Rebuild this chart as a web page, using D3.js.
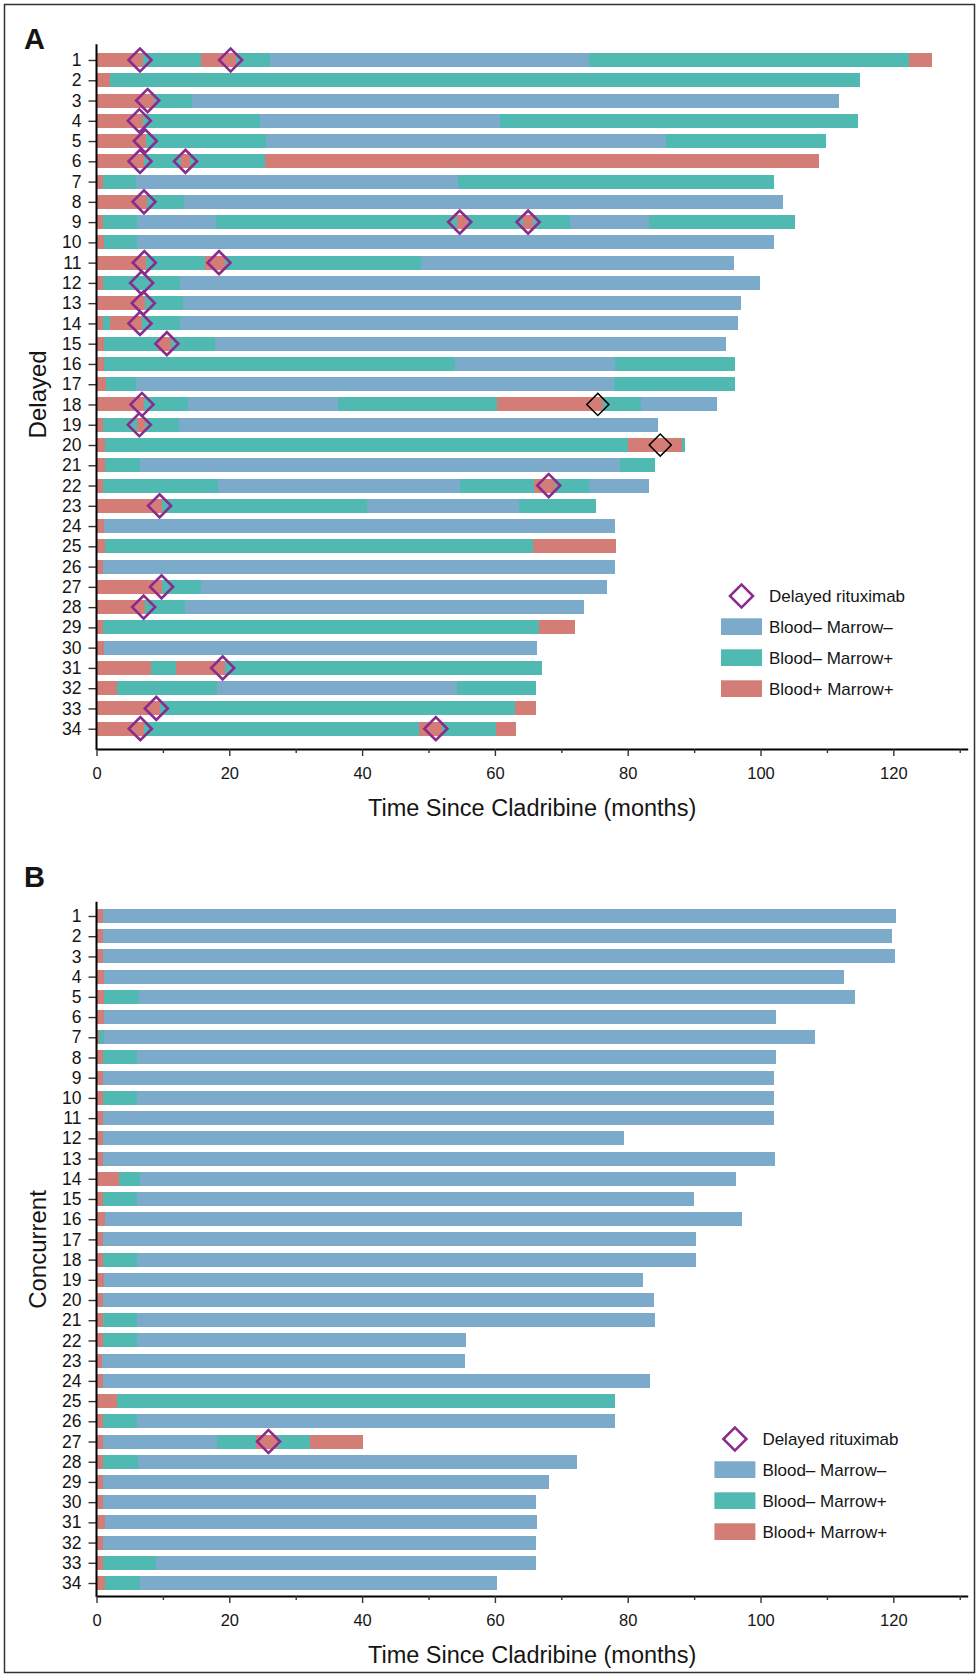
<!DOCTYPE html>
<html lang="en">
<head>
<meta charset="UTF-8">
<script src="https://cdn.jsdelivr.net/npm/d3@7"></script>
<title>Response by patient</title>
<style>
  body { margin: 0; background: #fff; }
  svg text { font-family: "Liberation Sans", Arial, sans-serif; fill: #151515; }
</style>
</head>
<body>
<script>
// ---- data ----
const patientIds = d3.range(1, 35);
const stateKeys = ["N", "M", "B"];
const stateLabels = ["Blood\u2013 Marrow\u2013", "Blood\u2013 Marrow+", "Blood+ Marrow+"];
const stateColors = ["#7caacb", "#4fb9b2", "#d47d77"];
const labelTicks = [0, 20, 40, 60, 80, 100, 120];

// one list per patient: [state, month at which that state ends]
const delayedSegments = [
  [["B",7.05],["M",15.8],["B",21.0],["M",26.2],["N",74.2],["M",122.4],["B",125.8]],
  [["B",2.0],["M",115.0]],
  [["B",8.7],["M",14.4],["N",111.8]],
  [["B",7.0],["M",24.6],["N",60.8],["M",114.7]],
  [["B",7.4],["M",25.5],["N",85.8],["M",109.9]],
  [["B",7.2],["M",12.8],["B",14.1],["M",25.4],["B",108.8]],
  [["B",1.0],["M",5.95],["N",54.4],["M",102.0]],
  [["B",7.6],["M",13.2],["N",103.4]],
  [["B",1.0],["M",6.1],["N",18.0],["M",54.3],["B",55.8],["M",64.2],["B",65.8],["M",71.3],["N",83.2],["M",105.2]],
  [["B",1.1],["M",6.1],["N",102.0]],
  [["B",7.5],["M",16.4],["B",19.3],["M",48.9],["N",96.0]],
  [["B",1.0],["M",12.6],["N",99.9]],
  [["B",7.3],["M",13.0],["N",97.1]],
  [["B",1.0],["M",2.0],["B",6.9],["M",12.6],["N",96.6]],
  [["B",1.1],["M",9.2],["B",11.2],["M",17.8],["N",94.8]],
  [["B",1.1],["M",54.0],["N",78.1],["M",96.2]],
  [["B",1.4],["M",5.95],["N",77.9],["M",96.2]],
  [["B",7.2],["M",13.8],["N",36.4],["M",60.3],["B",76.3],["M",82.0],["N",93.4]],
  [["B",1.0],["M",6.15],["B",7.3],["M",12.4],["N",84.6]],
  [["B",1.3],["M",80.0],["B",88.1],["M",88.6]],
  [["B",1.3],["M",6.55],["N",78.8],["M",84.1]],
  [["B",1.0],["M",18.3],["N",54.7],["M",65.9],["B",69.05],["M",74.2],["N",83.2]],
  [["B",9.9],["M",40.7],["N",63.6],["M",75.2]],
  [["B",1.1],["N",78.1]],
  [["B",1.3],["M",65.8],["B",78.2]],
  [["B",1.0],["N",78.1]],
  [["B",9.9],["M",15.7],["N",76.9]],
  [["B",7.3],["M",13.3],["N",73.4]],
  [["B",1.0],["M",66.7],["B",72.1]],
  [["B",1.1],["N",66.3]],
  [["B",8.25],["M",12.0],["B",19.3],["M",67.1]],
  [["B",3.1],["M",18.1],["N",54.3],["M",66.2]],
  [["B",9.6],["M",63.1],["B",66.2]],
  [["B",7.2],["M",48.6],["B",52.0],["M",60.2],["B",63.2]]
];

// [patient, month]
const delayedRituximab = [
  [1,6.55],[1,20.2],[3,7.7],[4,6.45],[5,7.35],[6,6.55],[6,13.4],[8,7.15],
  [9,54.7],[9,65.0],[11,7.2],[11,18.45],[12,6.8],[13,7.05],[14,6.55],[15,10.6],
  [18,6.85],[19,6.45],[22,68.1],[23,9.5],[27,9.8],[28,7.1],[31,19.0],[33,9.0],
  [34,6.6],[34,51.1]
];
const delayedBlackMarks = [[18,75.5],[20,84.9]];

const concurrentSegments = [
  [["B",1.0],["N",120.4]],
  [["B",1.0],["N",119.8]],
  [["B",1.0],["N",120.2]],
  [["B",1.2],["N",112.6]],
  [["B",1.2],["M",6.45],["N",114.2]],
  [["B",1.2],["N",102.3]],
  [["B",0.4],["M",1.2],["N",108.2]],
  [["B",1.0],["M",6.1],["N",102.3]],
  [["B",1.0],["N",102.0]],
  [["B",1.0],["M",6.1],["N",102.0]],
  [["B",1.0],["N",102.0]],
  [["B",1.0],["N",79.4]],
  [["B",1.0],["N",102.2]],
  [["B",3.45],["M",6.55],["N",96.3]],
  [["B",1.0],["M",6.1],["N",90.0]],
  [["B",1.3],["N",97.2]],
  [["B",1.0],["N",90.3]],
  [["B",1.0],["M",6.1],["N",90.3]],
  [["B",1.2],["N",82.3]],
  [["B",1.0],["N",84.0]],
  [["B",1.0],["M",6.1],["N",84.1]],
  [["B",1.0],["M",6.1],["N",55.6]],
  [["B",0.8],["N",55.5]],
  [["B",1.0],["N",83.3]],
  [["B",3.1],["M",78.1]],
  [["B",1.0],["M",6.1],["N",78.1]],
  [["B",1.0],["N",18.2],["M",24.0],["B",27.2],["M",32.1],["B",40.1]],
  [["B",1.0],["M",6.2],["N",72.3]],
  [["B",1.0],["N",68.2]],
  [["B",1.0],["N",66.2]],
  [["B",1.3],["N",66.3]],
  [["B",1.0],["N",66.2]],
  [["B",1.0],["M",8.9],["N",66.2]],
  [["B",1.3],["M",6.5],["N",60.3]]
];
const concurrentRituximab = [[27,25.9]];
const concurrentBlackMarks = [];

// ---- drawing ----
const W = 978, H = 1677;
const purple = "#8a2b8d";
const barH = 14;

const svg = d3.select("body").append("svg")
  .attr("width", W)
  .attr("height", H);

// outer frame
svg.append("rect")
  .attr("x", 4.5).attr("y", 4.5)
  .attr("width", 970).attr("height", 1668)
  .attr("fill", "none")
  .attr("stroke", "#333")
  .attr("stroke-width", 1.5);

const x = d3.scaleLinear().domain([0, 131.2]).range([96.5, 967.7]);
const diamond = d3.symbol(d3.symbolSquare, 265);
const diamondSmall = d3.symbol(d3.symbolSquare, 245);

function drawPanel(cfg) {
  const g = svg.append("g");
  const y = d3.scalePoint().domain(patientIds).range([cfg.firstRow, cfg.lastRow]);

  // flatten the state sequences into segments
  const segs = [];
  cfg.segments.forEach((row, i) => {
    let start = 0;
    row.forEach(([state, end]) => {
      segs.push({ id: patientIds[i], state: state, start: start, end: end });
      start = end;
    });
  });

  g.selectAll("rect.seg")
    .data(segs)
    .join("rect")
    .attr("class", "seg")
    .attr("x", d => x(d.start))
    .attr("width", d => x(d.end) - x(d.start))
    .attr("y", d => y(d.id) - barH / 2)
    .attr("height", barH)
    .attr("shape-rendering", "crispEdges")
    .attr("fill", d => stateColors[stateKeys.indexOf(d.state)]);

  // rituximab markers
  g.selectAll("path.ritux")
    .data(cfg.rituximab)
    .join("path")
    .attr("class", "ritux")
    .attr("d", diamond)
    .attr("transform", d => `translate(${x(d[1])},${y(d[0])}) rotate(45)`)
    .attr("fill", "none")
    .attr("stroke", purple)
    .attr("stroke-width", 2.6);

  g.selectAll("path.other")
    .data(cfg.black)
    .join("path")
    .attr("class", "other")
    .attr("d", diamondSmall)
    .attr("transform", d => `translate(${x(d[1])},${y(d[0])}) rotate(45)`)
    .attr("fill", "none")
    .attr("stroke", "#000")
    .attr("stroke-width", 1.5);

  // y axis
  const yAxis = g.append("g")
    .attr("transform", `translate(${x(0)},0)`)
    .call(d3.axisLeft(y).tickSize(8).tickPadding(7).tickSizeOuter(0));
  yAxis.select(".domain").remove();
  yAxis.selectAll(".tick line").attr("stroke", "#333").attr("stroke-width", 1.4);
  yAxis.selectAll(".tick text")
    .attr("font-size", "17.5px")
    .attr("fill", "#151515")
    .style("font-family", "'Liberation Sans', Arial, sans-serif");
  g.append("line")
    .attr("x1", x(0)).attr("x2", x(0))
    .attr("y1", cfg.axisTop).attr("y2", cfg.axisY + 1)
    .attr("stroke", "#000")
    .attr("stroke-width", 2);

  // x axis
  const xAxis = g.append("g")
    .attr("transform", `translate(0,${cfg.axisY})`)
    .call(d3.axisBottom(x)
      .tickValues(d3.range(0, 131, 10))
      .tickSize(7)
      .tickSizeOuter(0)
      .tickPadding(11)
      .tickFormat(d => labelTicks.includes(d) ? d : ""));
  xAxis.select(".domain").attr("stroke", "#000").attr("stroke-width", 2);
  xAxis.selectAll(".tick line")
    .attr("stroke", "#333")
    .attr("stroke-width", 1.4)
    .attr("y2", d => labelTicks.includes(d) ? 7 : 4);
  xAxis.selectAll(".tick text")
    .attr("font-size", "16.5px")
    .attr("fill", "#151515")
    .style("font-family", "'Liberation Sans', Arial, sans-serif");

  g.append("text")
    .attr("x", (x.range()[0] + x.range()[1]) / 2)
    .attr("y", cfg.axisY + 67)
    .attr("text-anchor", "middle")
    .attr("font-size", "23.5px")
    .text("Time Since Cladribine (months)");

  g.append("text")
    .attr("transform", `translate(46,${(cfg.firstRow + cfg.lastRow) / 2}) rotate(-90)`)
    .attr("text-anchor", "middle")
    .attr("font-size", "24px")
    .text(cfg.yLabel);

  g.append("text")
    .attr("x", 24)
    .attr("y", cfg.letterY)
    .attr("font-size", "29px")
    .attr("font-weight", "bold")
    .attr("fill", "#000")
    .text(cfg.letter);

  // legend
  const lg = g.append("g");
  lg.append("path")
    .attr("d", diamond)
    .attr("transform", `translate(${cfg.legX + 20.5},${cfg.legY}) rotate(45)`)
    .attr("fill", "none")
    .attr("stroke", purple)
    .attr("stroke-width", 2.6);
  lg.append("text")
    .attr("x", cfg.legX + 48)
    .attr("y", cfg.legY + 6)
    .attr("font-size", "17px")
    .text("Delayed rituximab");
  stateLabels.forEach((lab, i) => {
    const top = cfg.legY + 22.3 + 31 * i;
    lg.append("rect")
      .attr("x", cfg.legX).attr("y", top)
      .attr("width", 41).attr("height", 16.7)
      .attr("fill", stateColors[i]);
    lg.append("text")
      .attr("x", cfg.legX + 48)
      .attr("y", top + 14.5)
      .attr("font-size", "17px")
      .text(lab);
  });
}

drawPanel({
  segments: delayedSegments, rituximab: delayedRituximab, black: delayedBlackMarks,
  firstRow: 60, lastRow: 728.7, axisTop: 44.3, axisY: 749,
  yLabel: "Delayed", letter: "A", letterY: 49,
  legX: 721, legY: 596
});

drawPanel({
  segments: concurrentSegments, rituximab: concurrentRituximab, black: concurrentBlackMarks,
  firstRow: 916, lastRow: 1583, axisTop: 901.7, axisY: 1596,
  yLabel: "Concurrent", letter: "B", letterY: 887,
  legX: 714.4, legY: 1439
});
</script>
</body>
</html>
